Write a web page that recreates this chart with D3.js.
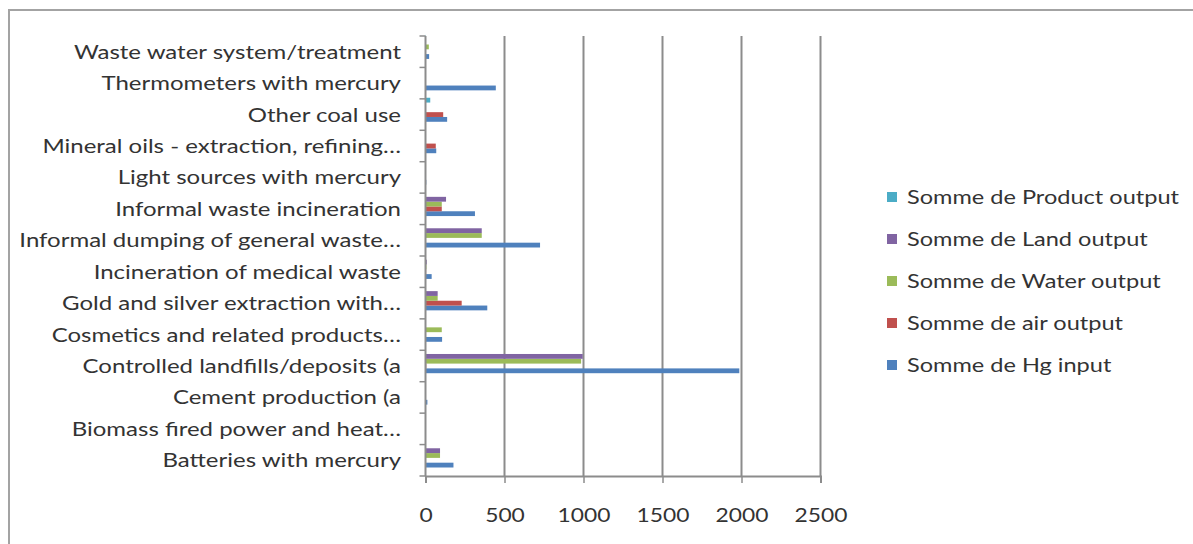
<!DOCTYPE html>
<html>
<head>
<meta charset="utf-8">
<script src="https://cdn.jsdelivr.net/npm/d3@7"></script>
<style>
  html, body { margin: 0; padding: 0; background: #fff; }
  svg { display: block; }
  text { font-family: Lato, "Open Sans", sans-serif; fill: #333; }
</style>
</head>
<body>
<svg id="chart" width="1193" height="544"></svg>
<script>
// Mercury inventory by source category (bottom to top as drawn)
const categories = [
  "Batteries with mercury",
  "Biomass fired power and heat…",
  "Cement production (a",
  "Controlled landfills/deposits (a",
  "Cosmetics and related products…",
  "Gold and silver extraction with…",
  "Incineration of medical waste",
  "Informal dumping of general waste…",
  "Informal waste incineration",
  "Light sources with mercury",
  "Mineral oils - extraction, refining…",
  "Other coal use",
  "Thermometers with mercury",
  "Waste water system/treatment"
];

const seriesNames = [
  "Somme de Hg input",
  "Somme de air output",
  "Somme de Water output",
  "Somme de Land output",
  "Somme de Product output"
];

const hgInput      = [177, 3, 12, 1986, 105, 391, 39, 725, 313, 5, 68, 137, 445, 23];
const airOutput    = [0, 2, 1, 5, 0, 229, 4, 0, 103, 1, 65, 112, 0, 1];
const waterOutput  = [92, 2, 1, 985, 103, 77, 6, 356, 103, 1, 0, 0, 0, 21];
const landOutput   = [92, 1, 3, 995, 0, 77, 8, 356, 130, 2, 0, 0, 0, 3];
const productOutput= [0, 0, 0, 0, 0, 0, 0, 0, 0, 1, 0, 30, 0, 2];

const xTicks = [0, 500, 1000, 1500, 2000, 2500];
const colors = ["#4f81bd", "#c0504d", "#9bbb59", "#8064a2", "#4bacc6"];

const seriesValues = [hgInput, airOutput, waterOutput, landOutput, productOutput];

// the typeface is set slightly wide, so text is stretched horizontally
const textStretch = 1.2;

const svg = d3.select("#chart");

// outer chart frame
svg.append("rect")
  .attr("x", 9).attr("y", 10)
  .attr("width", 1300).attr("height", 600)
  .attr("fill", "none")
  .attr("stroke", "#a3a3a3")
  .attr("stroke-width", 2);

const plotLeft = 425.5, plotRight = 820.5, plotTop = 36, plotBottom = 476;

const x = d3.scaleLinear().domain([0, 2500]).range([plotLeft, plotRight]);
const y = d3.scaleBand().domain(categories).range([plotBottom, plotTop]);

// series position inside each category: first series at the bottom
const inner = d3.scaleBand()
  .domain(d3.range(seriesNames.length))
  .range([y.bandwidth() - 3.7, 3.7]);

// vertical gridlines
svg.append("g")
  .selectAll("line")
  .data(xTicks.slice(1))
  .join("line")
  .attr("x1", d => x(d)).attr("x2", d => x(d))
  .attr("y1", plotTop).attr("y2", plotBottom)
  .attr("stroke", "#8c8c8c")
  .attr("stroke-width", 2);

// bars
const groups = svg.append("g")
  .selectAll("g")
  .data(categories)
  .join("g")
  .attr("transform", d => `translate(0,${y(d)})`);

groups.selectAll("rect")
  .data((c, i) => seriesValues.map((vals, s) => ({ s, v: vals[i] })))
  .join("rect")
  .attr("x", x(0))
  .attr("y", d => inner(d.s) - inner.bandwidth())
  .attr("height", inner.bandwidth())
  .attr("width", d => x(d.v) - x(0))
  .attr("fill", d => colors[d.s]);

// bottom axis
const xAxis = svg.append("g")
  .attr("transform", `translate(0,${plotBottom})`)
  .call(d3.axisBottom(x).tickValues(xTicks).tickSize(7).tickPadding(26).tickFormat(d3.format("d")));
xAxis.select(".domain").attr("stroke", "#8c8c8c").attr("stroke-width", 2);
xAxis.selectAll(".tick line").attr("stroke", "#8c8c8c").attr("stroke-width", 1.5);
xAxis.selectAll(".tick text")
  .attr("font-size", 19)
  .attr("font-family", "Lato, sans-serif")
  .attr("fill", "#333")
  .attr("transform", `scale(${textStretch},1)`)
  .attr("x", 0)
  .each(function (d) {
    // keep each label centred on its tick after stretching
    d3.select(this).attr("transform", null);
  });
xAxis.selectAll(".tick").each(function () {
  const t = d3.select(this).select("text");
  const yPos = +t.attr("y");
  t.attr("y", null).attr("dy", null)
    .attr("transform", `translate(0,${yPos}) scale(${textStretch},1)`)
    .attr("dy", "0.71em");
});

// left category axis with ticks at band edges
const yAxisG = svg.append("g");
yAxisG.append("line")
  .attr("x1", plotLeft).attr("x2", plotLeft)
  .attr("y1", plotTop).attr("y2", plotBottom)
  .attr("stroke", "#8c8c8c").attr("stroke-width", 2);
yAxisG.selectAll("line.edge")
  .data(d3.range(categories.length + 1))
  .join("line")
  .attr("class", "edge")
  .attr("x1", plotLeft - 6).attr("x2", plotLeft)
  .attr("y1", i => plotTop + i * y.step())
  .attr("y2", i => plotTop + i * y.step())
  .attr("stroke", "#8c8c8c").attr("stroke-width", 1.5);

yAxisG.selectAll("text")
  .data(categories)
  .join("text")
  .attr("transform", d => `translate(401,${y(d) + y.bandwidth() / 2}) scale(${textStretch},1)`)
  .attr("dy", "0.35em")
  .attr("text-anchor", "end")
  .attr("font-size", 20)
  .text(d => d);

// legend, listed top to bottom in reverse series order
const legendOrder = d3.range(seriesNames.length).reverse();
const legend = svg.append("g");
const legendRow = legend.selectAll("g")
  .data(legendOrder)
  .join("g")
  .attr("transform", (s, i) => `translate(887,${197 + i * 42})`);
legendRow.append("rect")
  .attr("x", 0).attr("y", -5)
  .attr("width", 10).attr("height", 10)
  .attr("fill", s => colors[s]);
legendRow.append("text")
  .attr("transform", `translate(20,0) scale(1.24,1)`)
  .attr("dy", "0.35em")
  .attr("font-size", 19)
  .text(s => seriesNames[s]);
</script>
</body>
</html>
